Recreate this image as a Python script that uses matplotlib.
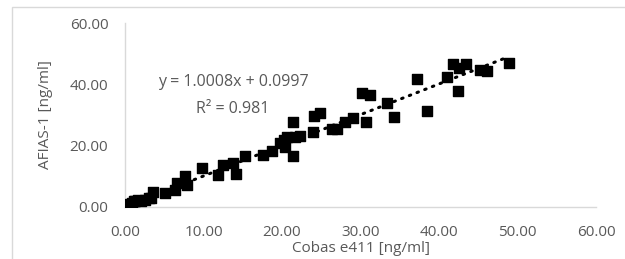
import matplotlib.pyplot as plt
from matplotlib.patches import Rectangle
import numpy as np

# Cobas e411 vs AFIAS-1 (ng/ml)
cobas = [0.0, 0.2, 0.4, 0.6, 0.9, 1.1, 1.3, 1.6, 2.0, 2.5, 3.0, 3.3, 3.6,
         5.1, 6.4, 6.6, 7.6, 7.9, 9.8, 11.9, 12.5, 13.8, 14.2, 15.3,
         17.6, 18.7, 19.7, 20.2, 20.4, 20.6, 21.4, 21.4, 21.7, 22.3,
         24.0, 24.1, 24.8, 26.4, 27.0, 28.0, 29.1, 30.2, 30.7, 31.2,
         33.4, 34.3, 37.2, 38.5, 41.0, 41.8, 42.4, 42.5, 43.5, 45.2,
         46.1, 48.9]
afias = [0.3, 0.5, 0.8, 1.0, 1.3, 1.8, 2.0, 2.2, 2.1, 2.3, 2.8, 3.0, 4.8,
         4.5, 5.5, 7.8, 10.1, 7.2, 12.7, 10.4, 13.7, 14.3, 10.8, 16.7,
         17.0, 18.3, 20.9, 21.8, 19.6, 22.8, 27.7, 16.6, 22.8, 23.2,
         24.5, 29.7, 30.7, 25.6, 25.6, 27.7, 28.9, 37.1, 27.7, 36.5,
         33.9, 29.3, 41.7, 31.3, 42.4, 46.6, 37.8, 45.3, 46.6, 44.7,
         44.3, 47.0]

pendiente = 1.0008
intercepto = 0.0997
r2 = 0.981

gris = '#595959'
fuente = ['Open Sans', 'DejaVu Sans']

fig = plt.figure(figsize=(6.25, 2.59), dpi=100)
fig.patches.append(Rectangle((12 / 625, -0.1), 1.2, 1 - 7 / 259 + 0.1,
                             transform=fig.transFigure, fill=False,
                             edgecolor='#d9d9d9', linewidth=1))
ax = fig.add_axes([0.2, 0.2008, 0.7536, 0.7102])

ax.scatter(cobas, afias, marker='s', s=55, color='black', zorder=3)

xs = np.linspace(min(cobas), 48.2, 60)
ax.plot(xs, pendiente * xs + intercepto, linestyle=(0, (0.5, 2.2)),
        color='black', linewidth=2.2, dash_capstyle='round', zorder=2)

ax.set_xlim(0, 60)
ax.set_ylim(0, 60)
ax.set_xticks(range(0, 61, 10))
ax.set_yticks(range(0, 61, 20))
ax.xaxis.set_major_formatter(lambda v, p: f'{v:.2f}')
ax.yaxis.set_major_formatter(lambda v, p: f'{v:.2f}')
ax.tick_params(length=0, colors=gris, labelsize=11)
ax.tick_params(axis='y', pad=12)
ax.tick_params(axis='x', pad=13)
for lbl in ax.get_xticklabels() + ax.get_yticklabels():
    lbl.set_family(fuente)

for lado in ['top', 'right']:
    ax.spines[lado].set_visible(False)
for lado in ['left', 'bottom']:
    ax.spines[lado].set_color('#d9d9d9')
    ax.spines[lado].set_linewidth(1)

ax.set_xlabel('Cobas e411 [ng/ml]', color=gris, fontsize=11, family=fuente, labelpad=1)
ax.set_ylabel('AFIAS-1 [ng/ml]', color=gris, fontsize=11, family=fuente, labelpad=12)

ax.text(233 / 625, 1 - 82 / 259, f'y = {pendiente}x + {intercepto}',
        transform=fig.transFigure, ha='center', va='center',
        color=gris, fontsize=11.5, family=fuente)
ax.text(233 / 625, 1 - 109 / 259, f'R² = {r2}',
        transform=fig.transFigure, ha='center', va='center',
        color=gris, fontsize=11.5, family=fuente)

plt.savefig('out.png', dpi=100)
